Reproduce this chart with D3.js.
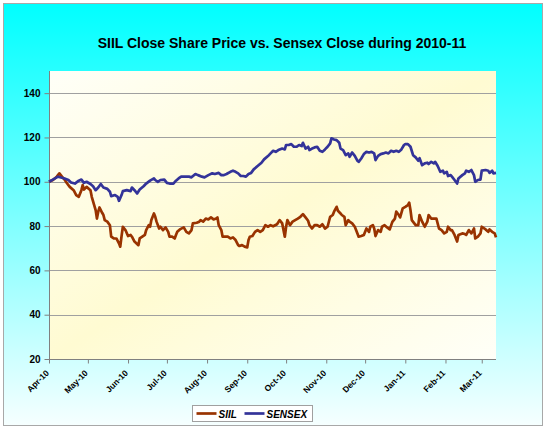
<!DOCTYPE html>
<html><head><meta charset="utf-8">
<script src="https://cdn.jsdelivr.net/npm/d3@7"></script>
<style>
body{margin:0;background:#fff}
svg{display:block}
text{font-family:"Liberation Sans",Arial,Helvetica,sans-serif;fill:#000}
</style>
</head><body>
<svg id="chart" width="546" height="430"></svg>
<script>
const chartTitle = "SIIL Close Share Price vs. Sensex Close during 2010-11";
const seriesNames = ["SIIL", "SENSEX"];
const seriesColors = ["#993300", "#333399"];
const yTickValues = [20, 40, 60, 80, 100, 120, 140];
const xTickLabels = ["Apr-10","May-10","Jun-10","Jul-10","Aug-10","Sep-10","Oct-10","Nov-10","Dec-10","Jan-11","Feb-11","Mar-11"];
const xTickDates = ["2010-04-01","2010-05-01","2010-06-01","2010-07-01","2010-08-01","2010-09-01","2010-10-01","2010-11-01","2010-12-01","2011-01-01","2011-02-01","2011-03-01"];

const siilDates = ["2010-04-01","2010-04-04","2010-04-07","2010-04-09","2010-04-11","2010-04-13","2010-04-15","2010-04-17","2010-04-20","2010-04-22","2010-04-24","2010-04-26","2010-04-27","2010-04-28","2010-04-30",
"2010-05-03","2010-05-04","2010-05-07","2010-05-08","2010-05-09","2010-05-10","2010-05-12","2010-05-13","2010-05-14","2010-05-16","2010-05-18","2010-05-19","2010-05-21","2010-05-23","2010-05-25","2010-05-26","2010-05-27","2010-05-28","2010-05-30",
"2010-06-01","2010-06-03","2010-06-04","2010-06-06","2010-06-09","2010-06-10","2010-06-12","2010-06-14","2010-06-15","2010-06-17","2010-06-18","2010-06-19","2010-06-21","2010-06-22","2010-06-23","2010-06-25","2010-06-26","2010-06-28","2010-06-30",
"2010-07-02","2010-07-03","2010-07-05","2010-07-07","2010-07-08","2010-07-09","2010-07-11","2010-07-14","2010-07-16","2010-07-18","2010-07-20","2010-07-21","2010-07-24","2010-07-26","2010-07-27","2010-07-29","2010-07-31",
"2010-08-02","2010-08-04","2010-08-06","2010-08-08","2010-08-09","2010-08-10","2010-08-12","2010-08-13","2010-08-15","2010-08-17","2010-08-19","2010-08-21","2010-08-23","2010-08-25","2010-08-26","2010-08-28","2010-08-30",
"2010-09-01","2010-09-02","2010-09-03","2010-09-05","2010-09-07","2010-09-09","2010-09-11","2010-09-13","2010-09-15","2010-09-17","2010-09-19","2010-09-21","2010-09-24","2010-09-26","2010-09-28","2010-09-30",
"2010-10-01","2010-10-02","2010-10-04","2010-10-06","2010-10-08","2010-10-10","2010-10-12","2010-10-14","2010-10-16","2010-10-18","2010-10-19","2010-10-21","2010-10-23","2010-10-25","2010-10-27","2010-10-29","2010-10-31",
"2010-11-02","2010-11-04","2010-11-06","2010-11-07","2010-11-09","2010-11-10","2010-11-12","2010-11-13","2010-11-15","2010-11-16","2010-11-18","2010-11-19","2010-11-21","2010-11-23","2010-11-24","2010-11-26","2010-11-28","2010-11-30",
"2010-12-02","2010-12-04","2010-12-05","2010-12-07","2010-12-08","2010-12-09","2010-12-11","2010-12-13","2010-12-14","2010-12-16","2010-12-18","2010-12-20","2010-12-22","2010-12-24","2010-12-25","2010-12-27","2010-12-28","2010-12-30",
"2011-01-01","2011-01-03","2011-01-04","2011-01-05","2011-01-06","2011-01-09","2011-01-11","2011-01-12","2011-01-14","2011-01-16","2011-01-18","2011-01-19","2011-01-21","2011-01-23","2011-01-25","2011-01-27","2011-01-29","2011-01-31",
"2011-02-02","2011-02-03","2011-02-05","2011-02-06","2011-02-08","2011-02-10","2011-02-11","2011-02-14","2011-02-16","2011-02-17","2011-02-19","2011-02-21","2011-02-23","2011-02-24","2011-02-26","2011-02-28",
"2011-03-01","2011-03-04","2011-03-06","2011-03-07","2011-03-09","2011-03-11","2011-03-12"];
const siilValues = [100,100.8,102.3,103.8,102.3,101,99.2,97.7,96.2,94,93.2,96.2,98.5,96.5,97.7,
96.2,93.2,87.2,83.4,86.5,88.4,86,85,82.7,82,80.4,75.2,74.4,74.4,72.2,70.7,75.5,79.7,78.2,
75.5,76,75.2,73,71.4,74.4,75.2,76,78.2,80.4,79.7,82.7,85.7,84.2,82,78.9,79.7,78.2,79.4,
77.4,75.2,75.2,74.4,76,77.4,78.5,79.4,77.4,76.7,78.2,81.2,81.5,82,82.7,82,83.4,
83,83.9,83,83.4,83.9,80.4,78.2,75.2,75.2,75.2,74.4,74.9,73.7,71.4,71,71.4,70.7,
70.4,73.7,75.2,75.5,77.4,78.2,77.4,78.2,80.4,79.7,80.4,79.9,80.8,82.7,81.2,75.2,
79.7,82.7,80.4,82,82.7,83.4,84.2,85.4,83.9,82.4,80.4,78.9,80.4,80.4,79.7,80.8,78.9,
79.7,84.2,85,86.5,88.7,86.9,85.7,85,84.2,80.4,82.7,82,81.2,79.7,78.2,75.2,75.5,76,
78.9,77.4,79.7,80.4,78.9,75.5,78.2,77.4,79.7,80.4,79.4,78.5,81.9,83.4,86.5,85,83.9,88,
88.7,89.5,90.6,87.2,82.7,80.4,80.4,85,82,79.7,82,85,83.4,83.4,83.4,78.9,78.2,76.7,
77.4,79.7,78.2,78.2,76,73,76,76.7,76.4,76,78.2,76.7,78.9,74.4,75.2,76.7,
79.7,78.5,77.4,78.5,77.4,76.7,74.9];

const sensexDates = ["2010-04-01","2010-04-04","2010-04-08","2010-04-11","2010-04-13","2010-04-16","2010-04-18","2010-04-21","2010-04-24","2010-04-26","2010-04-28","2010-04-30",
"2010-05-03","2010-05-05","2010-05-07","2010-05-09","2010-05-11","2010-05-13","2010-05-16","2010-05-18","2010-05-19","2010-05-22","2010-05-24","2010-05-25","2010-05-27","2010-05-28","2010-05-31",
"2010-06-03","2010-06-04","2010-06-06","2010-06-08","2010-06-10","2010-06-13","2010-06-15","2010-06-18","2010-06-21","2010-06-22","2010-06-24","2010-06-26","2010-06-29",
"2010-07-01","2010-07-03","2010-07-06","2010-07-08","2010-07-10","2010-07-12","2010-07-15","2010-07-18","2010-07-20","2010-07-23","2010-07-25","2010-07-28","2010-07-30",
"2010-08-02","2010-08-05","2010-08-07","2010-08-10","2010-08-12","2010-08-14","2010-08-16","2010-08-19","2010-08-21","2010-08-23","2010-08-25","2010-08-27","2010-08-29","2010-08-31",
"2010-09-02","2010-09-04","2010-09-06","2010-09-09","2010-09-12","2010-09-14","2010-09-17","2010-09-19","2010-09-21","2010-09-23","2010-09-25","2010-09-28","2010-09-30",
"2010-10-01","2010-10-03","2010-10-05","2010-10-07","2010-10-09","2010-10-11","2010-10-13","2010-10-14","2010-10-16","2010-10-18","2010-10-19","2010-10-21","2010-10-23","2010-10-25","2010-10-27","2010-10-29","2010-10-31",
"2010-11-02","2010-11-04","2010-11-05","2010-11-07","2010-11-09","2010-11-11","2010-11-12","2010-11-14","2010-11-16","2010-11-18","2010-11-19","2010-11-21","2010-11-23","2010-11-25","2010-11-26","2010-11-28","2010-11-30",
"2010-12-02","2010-12-04","2010-12-06","2010-12-08","2010-12-09","2010-12-11","2010-12-13","2010-12-15","2010-12-17","2010-12-19","2010-12-21","2010-12-23","2010-12-25","2010-12-27","2010-12-29","2010-12-31",
"2011-01-01","2011-01-03","2011-01-05","2011-01-07","2011-01-09","2011-01-11","2011-01-12","2011-01-14","2011-01-16","2011-01-18","2011-01-19","2011-01-21","2011-01-23","2011-01-24","2011-01-26","2011-01-28","2011-01-30","2011-01-31",
"2011-02-02","2011-02-03","2011-02-05","2011-02-06","2011-02-08","2011-02-10","2011-02-11","2011-02-14","2011-02-16","2011-02-17","2011-02-19","2011-02-21","2011-02-23","2011-02-24","2011-02-26","2011-02-28",
"2011-03-01","2011-03-04","2011-03-06","2011-03-07","2011-03-09","2011-03-10","2011-03-12"];
const sensexValues = [100,101,102.3,101.8,101.5,100.8,99.7,99.2,100.5,101,99.5,100,
99,98,96.2,97.4,99,97.4,96.8,95.5,93.5,94,93.2,91.4,94,95.8,96.2,
95.8,97.4,96.2,94.7,96.5,98,99.2,100.5,101.5,100.8,100,100.8,101,
99.5,99.2,99.2,100.5,101.5,102.3,102.3,102.3,102,103.5,103,102.3,102,
103,103.8,103.5,104,103,103,103.5,104.5,105,104.5,103.8,102.6,102.6,102.3,
103.5,104,105.6,107.1,108.6,110.1,111.6,112.8,114,113.5,114.3,115,114.6,
116.6,116.6,117,115.8,115.8,116.6,116.1,117.6,115,115.8,114.3,115,115.5,115.8,114,113.5,114.6,
115.8,117.3,119.6,119.1,118.8,117.6,115,114.3,112,112.8,111.3,113.2,111.7,109.5,109,110.5,112.5,
113.5,113.2,113.5,112.8,109.8,111.7,112.5,112.8,113.2,112.8,114,113.5,114,113.5,114.6,116.6,
117,117,115.8,112,111,109.5,110.6,107.5,108.3,108.6,108,109,108.3,109,107.1,104.5,105,103.8,
104.5,102.6,103,102.3,100.8,99.2,101.5,103,103.8,105,104.5,105.3,103,100,100.8,101,
105,105.3,105,104,105,103.8,104];

const parse = d3.timeParse("%Y-%m-%d");
const series = [
  {name: seriesNames[0], color: seriesColors[0], pts: siilDates.map((d,i)=>({d: parse(d), v: siilValues[i]}))},
  {name: seriesNames[1], color: seriesColors[1], pts: sensexDates.map((d,i)=>({d: parse(d), v: sensexValues[i]}))}
];

const W = 546, H = 430;
const plot = {l: 49, r: 496, t: 71, b: 359};
const svg = d3.select("#chart");
const defs = svg.append("defs");

const bg = defs.append("linearGradient").attr("id","bg").attr("x1",0).attr("y1",0).attr("x2",0).attr("y2",1);
bg.append("stop").attr("offset","0%").attr("stop-color","#00ffff");
bg.append("stop").attr("offset","100%").attr("stop-color","#f6ffff");

const pg = defs.append("linearGradient").attr("id","pg").attr("x1",0).attr("y1",0).attr("x2",1).attr("y2",1);
pg.append("stop").attr("offset","0%").attr("stop-color","#fffff8");
pg.append("stop").attr("offset","50%").attr("stop-color","#fffbd2");
pg.append("stop").attr("offset","100%").attr("stop-color","#fffff8");

svg.append("rect").attr("x",0).attr("y",0).attr("width",W).attr("height",H).attr("fill","#ffffff");
svg.append("rect").attr("x",3.5).attr("y",3.5).attr("width",539).attr("height",422)
  .attr("fill","url(#bg)").attr("stroke","#a8a8a8").attr("stroke-width",1);

svg.append("text").attr("x", 282).attr("y", 48).attr("text-anchor","middle")
  .style("font-size","14px").style("font-weight","bold").text(chartTitle);

svg.append("rect").attr("x",plot.l).attr("y",plot.t).attr("width",plot.r-plot.l).attr("height",plot.b-plot.t)
  .attr("fill","url(#pg)");

const x = d3.scaleTime().domain([parse("2010-04-01"), parse("2011-03-12")]).range([plot.l, plot.r]);
const y = d3.scaleLinear().domain([20,150]).range([plot.b, plot.t]);

// gridlines
svg.append("g").selectAll("line").data(yTickValues.filter(v=>v>20)).join("line")
  .attr("x1",plot.l).attr("x2",plot.r).attr("y1",d=>Math.round(y(d))+0.5).attr("y2",d=>Math.round(y(d))+0.5)
  .attr("stroke","#a0a0a0").attr("stroke-width",1);

// y axis
const yAxis = svg.append("g").attr("transform",`translate(${plot.l+0.5},0)`)
  .call(d3.axisLeft(y).tickValues(yTickValues).tickSize(5).tickPadding(4).tickFormat(d3.format("d")));
yAxis.select(".domain").attr("stroke","#808080").attr("d",`M0,${plot.t}V${plot.b}`);
yAxis.selectAll(".tick line").attr("stroke","#808080");
yAxis.selectAll(".tick text").style("font-size","10px").style("font-weight","bold").style("font-family","'Liberation Sans',Arial,sans-serif");

// x axis
const xAxis = svg.append("g").attr("transform",`translate(0,${plot.b+0.5})`)
  .call(d3.axisBottom(x).tickValues(xTickDates.map(parse)).tickSize(4)
    .tickFormat((d,i)=>xTickLabels[i]));
xAxis.select(".domain").attr("stroke","#808080").attr("d",`M${plot.l},0H${plot.r}`);
xAxis.selectAll(".tick line").attr("stroke","#808080");
xAxis.selectAll(".tick text")
  .style("font-size","8.5px").style("font-weight","bold").style("font-family","'Liberation Sans',Arial,sans-serif")
  .attr("text-anchor","end").attr("x",-10).attr("y",7).attr("dy","0.35em")
  .attr("transform","rotate(-45)");

// lines
const line = d3.line().x(p=>x(p.d)).y(p=>y(p.v));
svg.append("g").selectAll("path").data(series).join("path")
  .attr("d",s=>line(s.pts)).attr("fill","none").attr("stroke",s=>s.color)
  .attr("stroke-width",2.7).attr("stroke-linejoin","round");

// legend
const lg = svg.append("g").attr("transform","translate(192.5,405.5)");
lg.append("rect").attr("width",120).attr("height",16).attr("fill","#ffffff").attr("stroke","#a0a0a0");
const items = [{n:seriesNames[0],c:seriesColors[0],x:4,tx:26},{n:seriesNames[1],c:seriesColors[1],x:52,tx:74}];
items.forEach(it=>{
  lg.append("line").attr("x1",it.x).attr("x2",it.x+20).attr("y1",8).attr("y2",8).attr("stroke",it.c).attr("stroke-width",2.7);
  lg.append("text").attr("x",it.tx).attr("y",12).style("font-size","10px").style("font-weight","bold").style("font-style","italic").text(it.n);
});
</script>
</body></html>
